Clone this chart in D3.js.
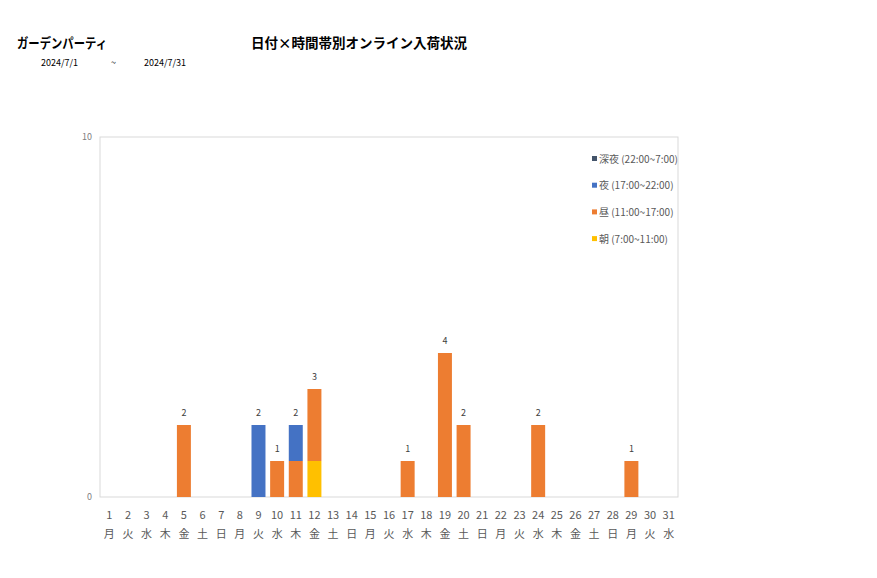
<!DOCTYPE html>
<html><head><meta charset="utf-8">
<script src="https://cdn.jsdelivr.net/npm/d3@7"></script>
<style>body{margin:0;background:#fff;font-family:"Noto Sans CJK JP","Noto Sans",sans-serif;}</style>
</head><body><svg id="c" width="877" height="578"></svg>
<script>
const days = d3.range(1, 32).map(String);
const weekdays = ["月","火","水","木","金","土","日","月","火","水","木","金","土","日","月","火","水","木","金","土","日","月","火","水","木","金","土","日","月","火","水"];
const seriesNames = ["朝 (7:00~11:00)", "昼 (11:00~17:00)", "夜 (17:00~22:00)", "深夜 (22:00~7:00)"];
const seriesColors = ["#FFC000", "#ED7D31", "#4472C4", "#44546A"];
const asa   = [0,0,0,0,0,0,0,0,0,0,0,1,0,0,0,0,0,0,0,0,0,0,0,0,0,0,0,0,0,0,0];
const hiru  = [0,0,0,0,2,0,0,0,0,1,1,2,0,0,0,0,1,0,4,2,0,0,0,2,0,0,0,0,1,0,0];
const yoru  = [0,0,0,0,0,0,0,0,2,0,1,0,0,0,0,0,0,0,0,0,0,0,0,0,0,0,0,0,0,0,0];
const shinya= [0,0,0,0,0,0,0,0,0,0,0,0,0,0,0,0,0,0,0,0,0,0,0,0,0,0,0,0,0,0,0];
const yTicks = [0, 10];

const svg = d3.select("#c");
const m = {l:100, r:678, t:137, b:497};
const x = d3.scaleBand().domain(days).range([m.l, m.r]).paddingInner(0.25).paddingOuter(0.125);
const y = d3.scaleLinear().domain([0, 10]).range([m.b, m.t]);

const rows = days.map((d,i)=>({day:d, s0:asa[i], s1:hiru[i], s2:yoru[i], s3:shinya[i]}));
const stack = d3.stack().keys(["s0","s1","s2","s3"])(rows);

svg.append("rect").attr("x", m.l).attr("y", m.t).attr("width", m.r-m.l).attr("height", m.b-m.t)
  .attr("fill","none").attr("stroke","#d9d9d9").attr("stroke-width",1);

stack.forEach((layer, k) => {
  svg.append("g").selectAll("rect").data(layer.filter(d => d[1]-d[0] > 0)).join("rect")
    .attr("x", d => x(d.data.day)).attr("width", x.bandwidth())
    .attr("y", d => y(d[1])).attr("height", d => y(d[0]) - y(d[1]))
    .attr("fill", seriesColors[k]);
});

svg.append("g").selectAll("text").data(rows.filter(r => r.s0+r.s1+r.s2+r.s3 > 0)).join("text")
  .attr("x", d => x(d.day) + x.bandwidth()/2)
  .attr("y", d => y(d.s0+d.s1+d.s2+d.s3) - 9)
  .attr("text-anchor","middle").attr("font-size", 9).attr("fill","#404040")
  .text(d => d.s0+d.s1+d.s2+d.s3);

svg.append("g").selectAll("text").data(yTicks).join("text")
  .attr("x", 92).attr("y", d => y(d) + 3).attr("text-anchor","end")
  .attr("font-size", 9).attr("fill","#808080").text(d => d);

const xl = svg.append("g");
xl.selectAll("text.n").data(days).join("text").attr("class","n")
  .attr("x", d => x(d) + x.bandwidth()/2).attr("y", 519).attr("text-anchor","middle")
  .attr("font-size", 11).attr("fill","#595959").text(d => d);
xl.selectAll("text.w").data(days).join("text").attr("class","w")
  .attr("x", d => x(d) + x.bandwidth()/2).attr("y", 538).attr("text-anchor","middle")
  .attr("font-size", 11).attr("fill","#595959").text((d,i) => weekdays[i]);

const legOrder = [3,2,1,0];
const lg = svg.append("g");
legOrder.forEach((k, i) => {
  const yy = 159 + i*26.7;
  lg.append("rect").attr("x", 592).attr("y", yy-3).attr("width", 5).attr("height", 5).attr("fill", seriesColors[k]);
  lg.append("text").attr("x", 599).attr("y", yy+3.5).attr("font-size", 10).attr("fill","#595959").text(seriesNames[k]);
});

svg.append("text").attr("x", 17).attr("y", 48).attr("font-size", 13.5).attr("font-weight","bold").attr("fill","#000")
  .attr("textLength", 90).attr("lengthAdjust","spacingAndGlyphs").text("ガーデンパーティ");
svg.append("text").attr("x", 251).attr("y", 48).attr("font-size", 13.5).attr("font-weight","bold").attr("fill","#000").text("日付×時間帯別オンライン入荷状況");
svg.append("text").attr("x", 41).attr("y", 66).attr("font-size", 9).attr("fill","#000").text("2024/7/1");
svg.append("text").attr("x", 111).attr("y", 66).attr("font-size", 9).attr("fill","#000").text("~");
svg.append("text").attr("x", 144).attr("y", 66).attr("font-size", 9).attr("fill","#000").text("2024/7/31");
</script></body></html>
